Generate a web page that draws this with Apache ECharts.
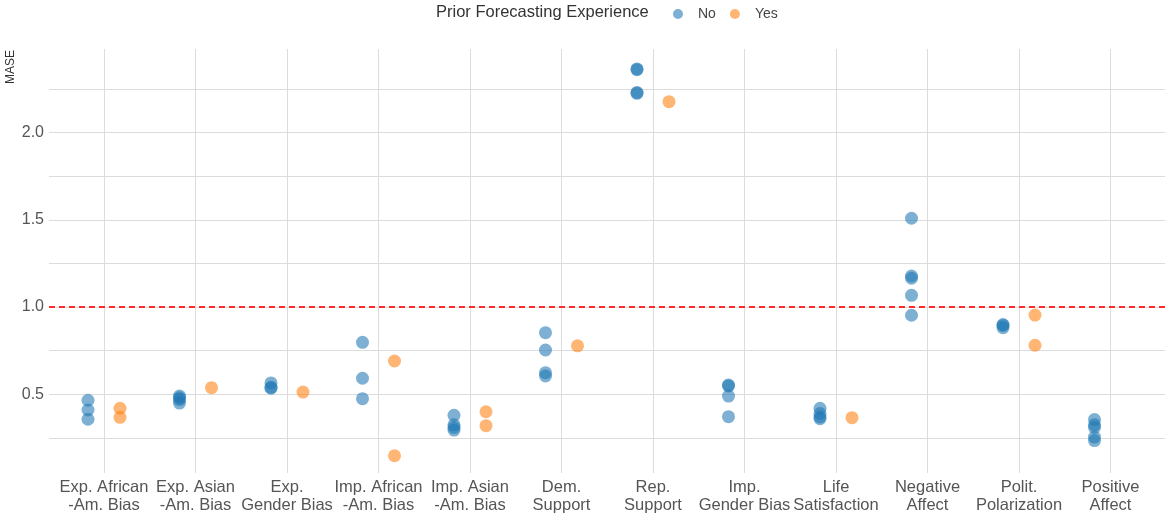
<!DOCTYPE html>
<html>
<head>
<meta charset="utf-8">
<script src="https://cdn.jsdelivr.net/npm/echarts@6/dist/echarts.min.js"></script>
<style>
html,body{margin:0;padding:0;background:#fff;}
#chart{width:1168px;height:517px;}
</style>
</head>
<body>
<div id="chart"></div>
<script>
// ---- data ----
const categories = [
  "Exp. African\n-Am. Bias", "Exp. Asian\n-Am. Bias", "Exp.\nGender Bias",
  "Imp. African\n-Am. Bias", "Imp. Asian\n-Am. Bias", "Dem.\nSupport",
  "Rep.\nSupport", "Imp.\nGender Bias", "Life\nSatisfaction",
  "Negative\nAffect", "Polit.\nPolarization", "Positive\nAffect"
];
const noValues = [
  [0.466, 0.41, 0.357],
  [0.49, 0.48, 0.47, 0.45],
  [0.565, 0.54, 0.535],
  [0.798, 0.592, 0.475],
  [0.38, 0.325, 0.31, 0.295],
  [0.853, 0.754, 0.624, 0.605],
  [2.365, 2.36, 2.23, 2.225],
  [0.553, 0.548, 0.49, 0.372],
  [0.42, 0.39, 0.37, 0.36],
  [1.509, 1.178, 1.165, 1.067, 0.953],
  [0.9, 0.895, 0.882],
  [0.355, 0.325, 0.31, 0.255, 0.235]
];
const yesValues = [
  [0.42, 0.368],
  [0.538],
  [0.513],
  [0.691, 0.148],
  [0.40, 0.32],
  [0.778],
  [2.177],
  [],
  [0.366],
  [],
  [0.954, 0.781],
  []
];
const yTickLabels = [0.5, 1.0, 1.5, 2.0];
const referenceLine = 1.0;
const groupNames = ["No", "Yes"];
const legendTitle = "Prior Forecasting Experience";
const yAxisTitle = "MASE";

function toPoints(groups) {
  const out = [];
  groups.forEach((vals, i) => vals.forEach(v => out.push([categories[i], v])));
  return out;
}

const chart = echarts.init(document.getElementById('chart'), null, {renderer: 'canvas'});
const FONT = "Liberation Sans, Arial, sans-serif";
const GRID_COLOR = '#dcdcdc';

chart.setOption({
  animation: false,
  backgroundColor: '#ffffff',
  textStyle: {fontFamily: FONT},
  graphic: [
    {type: 'text', x: 436, y: 12,
     style: {text: legendTitle, fontSize: 16.5, fill: '#333', fontFamily: FONT, verticalAlign: 'middle'}},
    {type: 'text', x: 11, y: 67, rotation: Math.PI / 2,
     style: {text: yAxisTitle, fontSize: 12, fill: '#333', fontFamily: FONT, align: 'center', verticalAlign: 'middle'}}
  ],
  legend: {
    data: groupNames,
    left: 668, top: 2,
    icon: 'circle', itemWidth: 10, itemHeight: 10, itemGap: 14,
    textStyle: {fontSize: 14, color: '#444', fontFamily: FONT, padding: [0, 0, 0, 10]}
  },
  grid: [
    {left: 49, right: 3, top: 45.3, bottom: 35.45},
    {left: 104, right: 57.5, top: 49, bottom: 44}
  ],
  xAxis: [
    {gridIndex: 0, type: 'value', min: 0, max: 1, show: false},
    {gridIndex: 1, type: 'category', data: categories, boundaryGap: false,
     axisLine: {show: false}, axisTick: {show: false},
     splitLine: {show: true, lineStyle: {color: GRID_COLOR, width: 1}},
     axisLabel: {interval: 0, fontSize: 16.5, color: '#555', lineHeight: 18, margin: 5, fontFamily: FONT}}
  ],
  yAxis: [
    {gridIndex: 0, type: 'value', min: 0, max: 2.5, interval: 0.25,
     axisLine: {show: false}, axisTick: {show: false},
     splitLine: {show: true, showMinLine: false, showMaxLine: false, lineStyle: {color: GRID_COLOR, width: 1}},
     axisLabel: {fontSize: 16, color: '#555', margin: 5, fontFamily: FONT,
       formatter: v => yTickLabels.some(t => Math.abs(t - v) < 1e-9) ? v.toFixed(1) : ''}},
    {gridIndex: 1, type: 'value', min: 0.049, max: 2.479, show: false, splitLine: {show: false}}
  ],
  series: [
    {type: 'line', xAxisIndex: 0, yAxisIndex: 0, data: [], silent: true,
     markLine: {silent: true, symbol: 'none', label: {show: false},
       lineStyle: {color: '#ff2b2b', type: [6, 4], width: 2},
       data: [{yAxis: referenceLine}]}},
    {name: groupNames[0], type: 'scatter', xAxisIndex: 1, yAxisIndex: 1,
     symbolSize: 13, symbolOffset: [-16, 0],
     itemStyle: {color: '#1f77b4', opacity: 0.58},
     data: toPoints(noValues)},
    {name: groupNames[1], type: 'scatter', xAxisIndex: 1, yAxisIndex: 1,
     symbolSize: 13, symbolOffset: [16, 0],
     itemStyle: {color: '#ff7f0e', opacity: 0.58},
     data: toPoints(yesValues)}
  ]
});
</script>
</body>
</html>
